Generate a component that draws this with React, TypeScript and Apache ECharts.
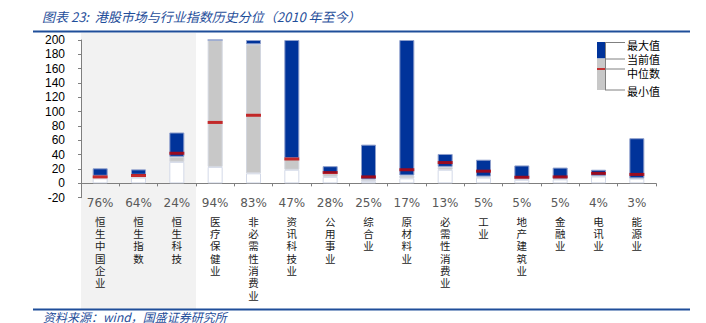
import React, { useEffect, useRef } from "react";
import * as echarts from "echarts";

const names = ["恒生中国企业", "恒生指数", "恒生科技", "医疗保健业", "非必需性消费业", "资讯科技业", "公用事业", "综合业", "原材料业", "必需性消费业", "工业", "地产建筑业", "金融业", "电讯业", "能源业"];
const pctLabels = ["76%", "64%", "24%", "94%", "83%", "47%", "28%", "25%", "17%", "13%", "5%", "5%", "5%", "4%", "3%"];
const minV = [7, 8, 30, 23, 14, 19, 9, 3, 7, 19, 8, 5, 5.5, 9.5, 6.5];
const curV = [10.5, 12, 37, 200, 194, 35, 13, 5.5, 11, 23, 9.5, 6, 6.5, 10.5, 7];
const medV = [9, 11, 42, 85, 95, 34, 15, 9, 19, 29, 17, 8.5, 9, 14, 12.5];
const maxV = [21, 19.5, 71, 200, 200, 200, 24, 54, 200, 41, 33, 25, 22, 19, 63];
const yTicks = { min: -20, max: 200, interval: 20 };

const BLUE = "#00339a";
const GREY = "#c8c8c8";
const RED = "#c00000";
const DARK = "#1f4e9a";
const CJK = "'Noto Sans CJK SC', sans-serif";

export default function App() {
  const ref = useRef<HTMLDivElement>(null);
  useEffect(() => {
    if (!ref.current) return;
    const chart = echarts.init(ref.current, null, { renderer: "svg" });
    const greyPart = curV.map((c, i) => c - minV[i]);
    const bluePart = maxV.map((m, i) => m - curV[i]);
    chart.setOption({
      animation: false,
      grid: { left: 81, right: 50, top: 40, bottom: 125.3, containLabel: false },
      xAxis: {
        type: "category",
        data: names,
        position: "bottom",
        axisLine: { onZero: true, lineStyle: { color: "#7f7f7f", width: 1 } },
        axisTick: { show: true, length: 3, lineStyle: { color: "#7f7f7f" } },
        axisLabel: {
          margin: -7,
          interval: 0,
          formatter: (v: string, i: number) =>
            `{p|${pctLabels[i]}}\n` + v.split("").map((c) => `{n|${c}}`).join("\n"),
          rich: {
            p: { color: "#595959", fontSize: 12, lineHeight: 24.5, fontFamily: "'DejaVu Sans', sans-serif" },
            n: { color: "#1a1a1a", fontSize: 10.5, lineHeight: 12.3, fontFamily: CJK },
          },
        },
        splitLine: { show: false },
      },
      yAxis: {
        type: "value",
        min: yTicks.min,
        max: yTicks.max,
        interval: yTicks.interval,
        axisLine: { show: true, lineStyle: { color: "#7f7f7f" } },
        axisTick: { show: true, length: 3, lineStyle: { color: "#7f7f7f" } },
        axisLabel: { color: "#000", fontSize: 12, margin: 16, fontFamily: "'Liberation Sans', sans-serif" },
        splitLine: { show: false },
      },
      series: [
        {
          type: "bar",
          stack: "s",
          barWidth: 15,
          data: minV,
          itemStyle: { color: "#ffffff", borderColor: "#d3d9e8", borderWidth: 1 },
          silent: true,
        },
        {
          type: "bar",
          stack: "s",
          barWidth: 15,
          data: greyPart,
          itemStyle: { color: GREY, borderColor: "#d2d6df", borderWidth: 1 },
          silent: true,
        },
        {
          type: "bar",
          stack: "s",
          barWidth: 15,
          data: bluePart,
          itemStyle: { color: BLUE, borderColor: "#8e9fcc", borderWidth: 1 },
          silent: true,
        },
        {
          type: "scatter",
          data: medV,
          symbol: "rect",
          symbolSize: [15, 3],
          itemStyle: { color: RED },
          z: 5,
          silent: true,
        },
      ],
      graphic: [
        { type: "rect", z: -10, shape: { x: 81, y: 33, width: 115, height: 276 }, style: { fill: "#f2f2f2" } },
        { type: "line", shape: { x1: 33, y1: 31.5, x2: 690, y2: 31.5 }, style: { stroke: DARK, lineWidth: 2 } },
        { type: "line", shape: { x1: 33, y1: 309.5, x2: 690, y2: 309.5 }, style: { stroke: DARK, lineWidth: 2 } },
        {
          type: "text",
          x: 42,
          y: 16,
          style: { text: "图表 23:  港股市场与行业指数历史分位（2010 年至今）", fill: DARK, font: `italic 13px ${CJK}`, verticalAlign: "middle" },
        },
        {
          type: "text",
          x: 43,
          y: 316,
          style: { text: "资料来源：wind，国盛证券研究所", fill: DARK, font: `italic 12px ${CJK}`, verticalAlign: "middle" },
        },
        // legend
        { type: "rect", shape: { x: 597, y: 42, width: 8, height: 16.5 }, style: { fill: BLUE } },
        { type: "rect", shape: { x: 597, y: 58.5, width: 8, height: 31.5 }, style: { fill: GREY } },
        { type: "line", shape: { x1: 597, y1: 69, x2: 605, y2: 69 }, style: { stroke: RED, lineWidth: 1.5 } },
        { type: "line", shape: { x1: 605.5, y1: 42, x2: 605.5, y2: 90 }, style: { stroke: "#808080", lineWidth: 1 } },
        { type: "line", shape: { x1: 605, y1: 42.5, x2: 625, y2: 42.5 }, style: { stroke: "#808080", lineWidth: 1 } },
        { type: "line", shape: { x1: 605, y1: 59, x2: 625, y2: 59 }, style: { stroke: "#808080", lineWidth: 1 } },
        { type: "line", shape: { x1: 605, y1: 69, x2: 625, y2: 69 }, style: { stroke: "#808080", lineWidth: 1 } },
        { type: "line", shape: { x1: 605, y1: 90, x2: 625, y2: 90 }, style: { stroke: "#808080", lineWidth: 1 } },
        { type: "text", x: 627, y: 45, style: { text: "最大值", fill: "#000", font: `11px ${CJK}`, verticalAlign: "middle" } },
        { type: "text", x: 627, y: 59, style: { text: "当前值", fill: "#000", font: `11px ${CJK}`, verticalAlign: "middle" } },
        { type: "text", x: 627, y: 73, style: { text: "中位数", fill: "#000", font: `11px ${CJK}`, verticalAlign: "middle" } },
        { type: "text", x: 627, y: 91, style: { text: "最小值", fill: "#000", font: `11px ${CJK}`, verticalAlign: "middle" } },
      ],
    });
    return () => chart.dispose();
  }, []);
  return (
    <div
      ref={ref}
      style={{ position: "fixed", left: 0, top: 0, width: 706, height: 323, background: "#fff" }}
    />
  );
}
